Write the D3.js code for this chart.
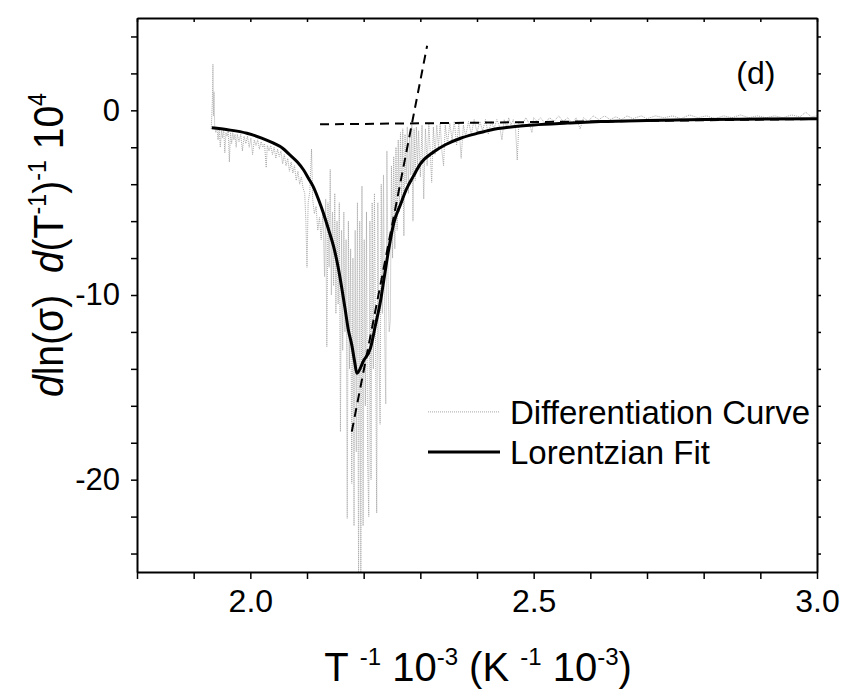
<!DOCTYPE html>
<html>
<head>
<meta charset="utf-8">
<script src="https://cdn.jsdelivr.net/npm/d3@7"></script>
<style>
  body { margin: 0; background: #fff; }
  svg text { font-family: "Liberation Sans", Arial, sans-serif; fill: #000; }
</style>
</head>
<body>
<div id="chart"></div>
<script>
// axis setup
const xDomain = [1.8, 3.0];
const yDomain = [-25, 5];
const xTicks = d3.range(18, 31).map((d) => d / 10);
const xTickLabels = [2.0, 2.5, 3.0];
const yTicks = d3.range(-24, 5, 2);
const yTickLabels = [-20, -10, 0];

// noisy differentiation curve [T^-1, value]
const diffCurve = [
  [1.931, -1.0], [1.933, 0.5], [1.934, 2.5], [1.935, -0.3], [1.936, 1.0], [1.937, -0.8],
  [1.939, -1.2], [1.941, -0.9], [1.943, -1.6], [1.945, -1.0], [1.947, -2.0], [1.949, -1.1],
  [1.951, -1.5], [1.953, -1.0], [1.955, -2.3], [1.957, -1.2], [1.959, -1.4], [1.961, -1.1],
  [1.963, -2.8], [1.965, -1.2], [1.967, -1.8], [1.969, -1.2], [1.971, -1.6], [1.973, -1.3],
  [1.975, -2.0], [1.977, -1.3], [1.980, -1.7], [1.983, -1.3], [1.986, -2.2], [1.989, -1.4],
  [1.992, -1.8], [1.995, -1.4], [1.998, -2.0], [2.001, -1.5], [2.004, -2.4], [2.007, -1.6],
  [2.010, -1.9], [2.013, -1.6], [2.016, -2.1], [2.019, -1.7], [2.022, -2.0], [2.025, -1.8],
  [2.028, -3.1], [2.030, -1.9], [2.033, -2.2], [2.036, -1.9], [2.039, -2.4], [2.042, -2.0],
  [2.045, -2.6], [2.048, -2.1], [2.051, -2.5], [2.054, -2.2], [2.057, -2.9], [2.060, -2.4],
  [2.063, -3.0], [2.066, -2.6], [2.069, -3.3], [2.072, -2.8], [2.075, -3.4], [2.078, -3.0],
  [2.081, -3.8], [2.084, -3.3], [2.087, -4.0], [2.090, -3.6], [2.093, -4.2], [2.096, -4.5],
  [2.098, -6.0], [2.100, -8.5], [2.102, -5.0], [2.105, -4.4], [2.108, -2.1], [2.110, -4.8],
  [2.113, -5.6], [2.116, -5.2], [2.119, -6.5], [2.122, -5.8], [2.125, -7.0], [2.128, -5.5],
  [2.131, -9.0], [2.133, -4.8], [2.135, -12.8], [2.137, -5.0], [2.139, -8.5], [2.141, -3.2],
  [2.143, -10.0], [2.145, -5.5], [2.147, -9.5], [2.149, -4.5], [2.151, -11.0], [2.153, -6.0],
  [2.155, -10.5], [2.157, -5.0], [2.159, -17.4], [2.161, -6.5], [2.163, -13.0], [2.165, -5.5],
  [2.167, -12.0], [2.169, -7.0], [2.171, -22.1], [2.173, -6.0], [2.175, -14.0], [2.177, -7.5],
  [2.179, -20.2], [2.181, -8.0], [2.183, -22.5], [2.185, -6.5], [2.187, -18.5], [2.189, -5.0],
  [2.191, -25.5], [2.193, -6.0], [2.195, -25.5], [2.197, -4.1], [2.199, -22.5], [2.201, -7.0],
  [2.203, -16.0], [2.205, -5.5], [2.207, -19.0], [2.209, -22.0], [2.211, -6.0], [2.213, -20.0],
  [2.215, -5.0], [2.217, -14.0], [2.219, -4.5], [2.221, -12.5], [2.223, -21.8], [2.225, -5.0],
  [2.227, -13.0], [2.229, -17.0], [2.231, -4.0], [2.233, -11.0], [2.235, -3.5], [2.237, -12.0],
  [2.239, -15.9], [2.241, -2.2], [2.243, -9.0], [2.245, -12.0], [2.247, -11.4], [2.249, -3.0],
  [2.251, -8.0], [2.253, -2.5], [2.255, -7.5], [2.257, -2.0], [2.259, -6.5], [2.261, -1.6],
  [2.263, -5.5], [2.265, -1.2], [2.267, -5.0], [2.269, -1.0], [2.271, -6.8], [2.273, -1.3],
  [2.275, -4.0], [2.277, -0.9], [2.279, -4.5], [2.281, -1.2], [2.283, -3.5], [2.285, -0.8],
  [2.287, -6.0], [2.289, -1.0], [2.291, -3.8], [2.293, -0.9], [2.295, -3.0], [2.297, -1.1],
  [2.300, -3.6], [2.303, -0.8], [2.306, -4.8], [2.309, -1.0], [2.312, -3.0], [2.315, -0.7],
  [2.318, -2.6], [2.320, -3.9], [2.323, -0.9], [2.326, -2.4], [2.329, -0.8], [2.332, -2.0],
  [2.335, -0.7], [2.338, -2.2], [2.341, -3.0], [2.344, -0.8], [2.348, -1.8], [2.352, -0.7],
  [2.356, -1.6], [2.360, -0.6], [2.364, -1.9], [2.368, -0.7], [2.372, -2.6], [2.376, -0.8],
  [2.380, -1.4], [2.385, -0.6], [2.390, -1.3], [2.395, -0.5], [2.400, -1.2], [2.405, -0.6],
  [2.410, -1.1], [2.415, -0.5], [2.420, -1.3], [2.425, -0.6], [2.430, -1.0], [2.435, -0.5],
  [2.440, -0.9], [2.444, -1.6], [2.448, -0.5], [2.452, -0.9], [2.456, -0.4], [2.460, -0.8],
  [2.464, -0.5], [2.468, -1.0], [2.471, -2.7], [2.474, -0.6], [2.480, -0.8], [2.486, -0.4],
  [2.492, -0.7], [2.497, -1.2], [2.500, -0.4], [2.506, -0.6], [2.512, -0.4], [2.520, -0.7],
  [2.528, -0.4], [2.536, -0.6], [2.544, -0.3], [2.552, -0.6], [2.560, -0.4], [2.568, -0.7],
  [2.575, -0.4], [2.582, -1.0], [2.588, -0.4], [2.596, -0.6], [2.605, -0.3], [2.615, -0.5],
  [2.625, -0.3], [2.635, -0.5], [2.645, -0.35], [2.655, -0.5], [2.665, -0.3], [2.675, -0.45],
  [2.690, -0.3], [2.700, -0.45], [2.715, -0.3], [2.730, -0.4], [2.745, -0.3], [2.760, -0.45],
  [2.775, -0.25], [2.790, -0.4], [2.805, -0.3], [2.820, -0.45], [2.835, -0.3], [2.850, -0.4],
  [2.865, -0.25], [2.880, -0.4], [2.895, -0.3], [2.910, -0.4], [2.925, -0.3], [2.940, -0.4],
  [2.955, -0.25], [2.970, -0.35], [2.980, -0.1], [2.990, -0.35], [3.000, -0.3]
];

// Lorentzian fit
const fitCurve = [
  [1.932, -0.94], [1.960, -1.05], [1.994, -1.24], [2.020, -1.5], [2.041, -1.78], [2.057, -2.05],
  [2.070, -2.42], [2.083, -2.8], [2.094, -3.23], [2.103, -3.7], [2.111, -4.13], [2.120, -4.8],
  [2.129, -5.57], [2.138, -6.45], [2.147, -7.38], [2.155, -8.5], [2.161, -9.55], [2.167, -10.7],
  [2.173, -11.9], [2.179, -12.7], [2.184, -13.6], [2.188, -14.24], [2.200, -13.55], [2.212, -12.88],
  [2.221, -11.6], [2.229, -10.45], [2.237, -8.9], [2.244, -7.56], [2.253, -6.12], [2.265, -5.1],
  [2.275, -4.3], [2.288, -3.55], [2.300, -2.9], [2.324, -2.24], [2.345, -1.85], [2.371, -1.51],
  [2.400, -1.25], [2.424, -1.06], [2.460, -0.9], [2.500, -0.79], [2.560, -0.69], [2.618, -0.61],
  [2.700, -0.55], [2.800, -0.5], [2.900, -0.47], [3.000, -0.45]
];

// tangent guide lines
const dashFlat = [[2.123, -0.76], [3.0, -0.47]];
const dashSteep = [[2.179, -17.4], [2.312, 3.5]];

const legendItems = ["Differentiation Curve", "Lorentzian Fit"];

const width = 842, height = 698;
const margin = { top: 18, right: 25, bottom: 126, left: 137 };
const innerW = width - margin.left - margin.right;
const innerH = height - margin.top - margin.bottom;

const svg = d3.select("#chart").append("svg")
  .attr("width", width)
  .attr("height", height);

const g = svg.append("g")
  .attr("transform", `translate(${margin.left},${margin.top})`);

const x = d3.scaleLinear().domain(xDomain).range([0, innerW]);
const y = d3.scaleLinear().domain(yDomain).range([innerH, 0]);

g.append("clipPath").attr("id", "clip")
  .append("rect").attr("width", innerW).attr("height", innerH);

const line = d3.line().x((d) => x(d[0])).y((d) => y(d[1]));

// data
g.append("path")
  .datum(diffCurve)
  .attr("clip-path", "url(#clip)")
  .attr("fill", "none")
  .attr("stroke", "#a8a8a8")
  .attr("stroke-width", 1)
  .attr("stroke-dasharray", "1,1")
  .attr("d", line);

g.append("path")
  .datum(fitCurve)
  .attr("fill", "none")
  .attr("stroke", "#000")
  .attr("stroke-width", 3)
  .attr("stroke-linejoin", "round")
  .attr("d", line.curve(d3.curveMonotoneX));

line.curve(d3.curveLinear);
[dashFlat, dashSteep].forEach((seg) => {
  g.append("path")
    .datum(seg)
    .attr("fill", "none")
    .attr("stroke", "#000")
    .attr("stroke-width", 2)
    .attr("stroke-dasharray", "9,6")
    .attr("d", line);
});

// axes
const fmt = (d) => (xTickLabels.some((v) => Math.abs(v - d) < 1e-6) ? d.toFixed(1) : "");
const fmtY = (d) => (yTickLabels.includes(d) ? d : "");

const styleAxis = (sel, fontSize) => {
  sel.selectAll(".domain").attr("stroke-width", 2);
  sel.selectAll(".tick line").attr("stroke-width", 1.5);
  sel.selectAll("text").attr("font-size", fontSize).attr("font-family", null);
};

g.append("g")
  .attr("transform", `translate(0,${innerH})`)
  .call(d3.axisBottom(x).tickValues(xTicks).tickFormat(fmt).tickSizeInner(7).tickSizeOuter(0).tickPadding(10))
  .call(styleAxis, 32);

g.append("g")
  .call(d3.axisTop(x).tickValues(xTicks).tickFormat("").tickSizeInner(-4).tickSizeOuter(0))
  .call(styleAxis, 0);

g.append("g")
  .call(d3.axisLeft(y).tickValues(yTicks).tickFormat(fmtY).tickSizeInner(6).tickSizeOuter(0).tickPadding(11))
  .call(styleAxis, 31);

g.append("g")
  .attr("transform", `translate(${innerW},0)`)
  .call(d3.axisRight(y).tickValues(yTicks).tickFormat("").tickSizeInner(4).tickSizeOuter(0))
  .call(styleAxis, 0);

// panel tag
g.append("text")
  .attr("x", x(2.892))
  .attr("y", y(1.4))
  .attr("text-anchor", "middle")
  .attr("font-size", 32)
  .text("(d)");

// legend
const legend = g.append("g").attr("transform", `translate(${428 - margin.left},${y(-16.33)})`);
legendItems.forEach((name, i) => {
  const row = legend.append("g").attr("transform", `translate(0,${i * 40})`);
  row.append("line")
    .attr("x1", 0).attr("x2", 72)
    .attr("stroke", i === 0 ? "#a8a8a8" : "#000")
    .attr("stroke-width", i === 0 ? 1 : 3)
    .attr("stroke-dasharray", i === 0 ? "1,1" : null);
  row.append("text")
    .attr("x", 82)
    .attr("y", 12)
    .attr("font-size", 33)
    .text(name);
});

// x title
const xt = svg.append("text")
  .attr("x", 478)
  .attr("y", 681)
  .attr("text-anchor", "middle")
  .attr("font-size", 40);
xt.append("tspan").text("T\u00a0");
xt.append("tspan").attr("font-size", 24).attr("dy", -16).text("-1");
xt.append("tspan").attr("dy", 16).text("\u00a010");
xt.append("tspan").attr("font-size", 24).attr("dy", -16).text("-3");
xt.append("tspan").attr("dy", 16).text("\u00a0(K\u00a0");
xt.append("tspan").attr("font-size", 24).attr("dy", -16).text("-1");
xt.append("tspan").attr("dy", 16).text("\u00a010");
xt.append("tspan").attr("font-size", 24).attr("dy", -16).text("-3");
xt.append("tspan").attr("dy", 16).text(")");

// y title (slightly condensed along the reading direction)
const yt = svg.append("text")
  .attr("transform", `translate(63,245) rotate(-90) scale(0.93,1)`)
  .attr("text-anchor", "middle")
  .attr("font-size", 42);
yt.append("tspan").attr("font-style", "italic").text("d");
yt.append("tspan").text("ln(σ)\u00a0\u00a0");
yt.append("tspan").attr("font-style", "italic").text("d");
yt.append("tspan").text("(T");
yt.append("tspan").attr("font-size", 25).attr("dy", -17).text("-1");
yt.append("tspan").attr("dy", 17).text(")");
yt.append("tspan").attr("font-size", 25).attr("dy", -17).text("-1");
yt.append("tspan").attr("dy", 17).text("\u00a010");
yt.append("tspan").attr("font-size", 25).attr("dy", -17).text("4");
</script>
</body>
</html>
